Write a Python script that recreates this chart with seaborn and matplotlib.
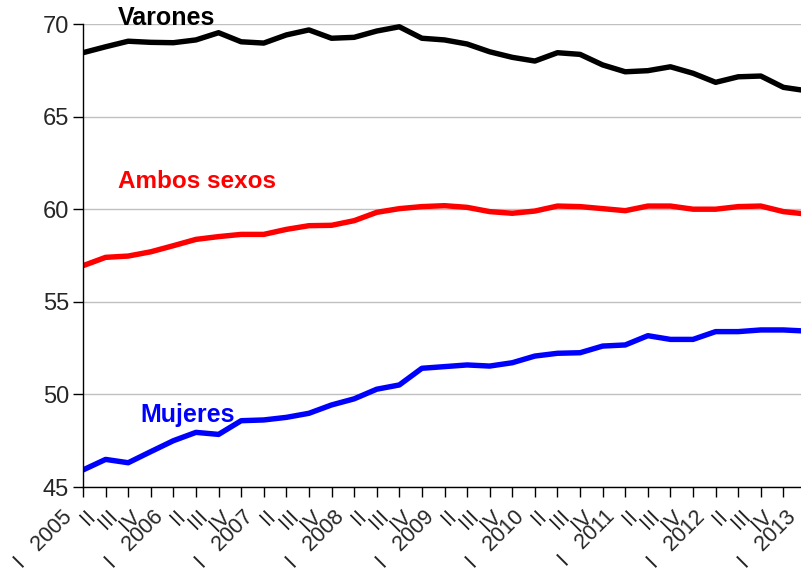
import numpy as np
import pandas as pd
import matplotlib
matplotlib.use("Agg")
import matplotlib.pyplot as plt
import matplotlib.transforms as mtrans
import seaborn as sns

# trimestres 2005 I .. 2013 I
years = list(range(2005, 2014))
quarter_names = ["I", "II", "III", "IV"]

varones = [68.45, 68.77, 69.07, 69.01, 68.99, 69.14, 69.53, 69.04, 68.97, 69.41,
           69.68, 69.23, 69.28, 69.62, 69.85, 69.23, 69.14, 68.92, 68.50, 68.20,
           68.00, 68.45, 68.36, 67.79, 67.42, 67.48, 67.69, 67.34, 66.85, 67.15,
           67.19, 66.58, 66.40]
ambos = [56.95, 57.40, 57.47, 57.70, 58.03, 58.37, 58.52, 58.64, 58.64, 58.91,
         59.11, 59.13, 59.38, 59.83, 60.03, 60.14, 60.19, 60.10, 59.87, 59.78,
         59.90, 60.17, 60.14, 60.03, 59.92, 60.17, 60.17, 60.00, 60.00, 60.14,
         60.17, 59.87, 59.74]
mujeres = [45.92, 46.49, 46.31, 46.91, 47.50, 47.95, 47.84, 48.58, 48.62, 48.76,
           48.98, 49.43, 49.76, 50.28, 50.51, 51.41, 51.50, 51.59, 51.53, 51.71,
           52.07, 52.22, 52.25, 52.61, 52.67, 53.17, 52.97, 52.97, 53.39, 53.39,
           53.48, 53.48, 53.42]

n = len(varones)
tick_labels = []
for i in range(n):
    q = i % 4
    if q == 0:
        tick_labels.append(f"I   {years[i // 4]}")
    else:
        tick_labels.append(quarter_names[q])

df = pd.DataFrame({
    "t": list(range(n)) * 3,
    "tasa": varones + ambos + mujeres,
    "serie": ["Varones"] * n + ["Ambos sexos"] * n + ["Mujeres"] * n,
})
colores = {"Varones": "#000000", "Ambos sexos": "#ff0000", "Mujeres": "#0000ff"}

sns.set_style("white")
plt.rcParams["font.family"] = ["Liberation Sans", "DejaVu Sans"]

fig = plt.figure(figsize=(8.01, 5.74), dpi=100)
ax = fig.add_axes([83 / 801, 87 / 574, 723 / 801, 463 / 574])

sns.lineplot(data=df, x="t", y="tasa", hue="serie", palette=colores,
             linewidth=3.9, legend=False, ax=ax)

ax.set_xlim(0, n - 1)
ax.set_ylim(45, 70)
ax.set_yticks(range(45, 71, 5))
ax.set_xticks(range(n))
ax.set_xticklabels(tick_labels, rotation=45, ha="right", va="top")
ax.tick_params(axis="x", direction="out", length=7, width=1, pad=7,
               labelsize=15.5, color="black", bottom=True)
ax.tick_params(axis="y", direction="out", length=7, width=1, pad=3,
               labelsize=17, color="black", left=True)

# etiquetas un poco desplazadas a la izquierda, como en el original
shift = mtrans.ScaledTranslation(-6 / 100, 0, fig.dpi_scale_trans)
for lab in ax.get_xticklabels():
    lab.set_transform(lab.get_transform() + shift)

ax.yaxis.grid(True, color="#c0c0c0", linewidth=1)
ax.xaxis.grid(False)
ax.set_xlabel("")
ax.set_ylabel("")
for s in ["top", "right"]:
    ax.spines[s].set_visible(False)
for s in ["left", "bottom"]:
    ax.spines[s].set_color("black")
    ax.spines[s].set_linewidth(1)

ax.text(1.55, 70.3, "Varones", color="black", fontsize=18, fontweight="bold",
        va="center", ha="left")
ax.text(1.55, 61.47, "Ambos sexos", color="#ff0000", fontsize=17.5, fontweight="bold",
        va="center", ha="left")
ax.text(2.52, 48.89, "Mujeres", color="#0000ff", fontsize=18, fontweight="bold",
        va="center", ha="left")

fig.savefig("out.png", dpi=100)
